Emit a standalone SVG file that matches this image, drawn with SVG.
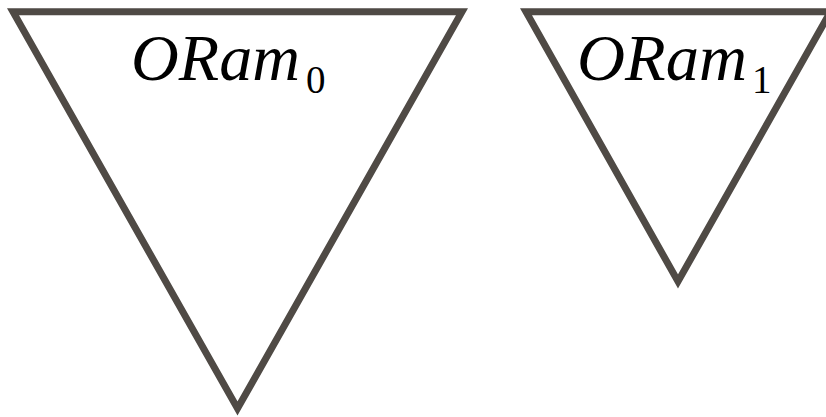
<svg xmlns="http://www.w3.org/2000/svg" width="826" height="417" viewBox="0 0 826 417">
<style>
.tri{fill:none;stroke:#4f4a45;stroke-width:7;stroke-linejoin:miter;stroke-miterlimit:10}
.lbl{font-family:"Liberation Serif","DejaVu Serif",serif;font-style:italic;font-size:65px;fill:#000}
.sub{font-family:"Liberation Serif","DejaVu Serif",serif;font-style:normal;font-size:39px;fill:#000}
</style>
<rect width="826" height="417" fill="#fff"/>
<g id="oram0">
<polygon class="tri" points="13,11.7 462,11.7 237.5,408.5"/>
<text class="lbl" x="131" y="80" textLength="169" lengthAdjust="spacingAndGlyphs">ORam</text>
<text class="sub" x="306" y="93">0</text>
</g>
<g id="oram1">
<polygon class="tri" points="526,11.7 830.5,11.7 678,281.5"/>
<text class="lbl" x="577" y="80" textLength="170" lengthAdjust="spacingAndGlyphs">ORam</text>
<text class="sub" x="752" y="93">1</text>
</g>
<g id="connectors"></g>
</svg>
